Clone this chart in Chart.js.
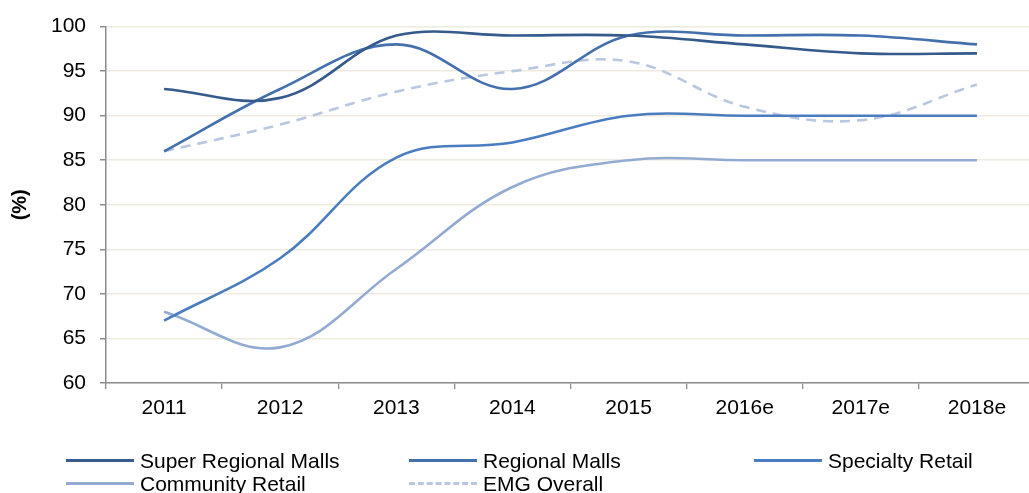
<!DOCTYPE html>
<html>
<head>
<meta charset="utf-8">
<script src="https://cdn.jsdelivr.net/npm/chart.js@4/dist/chart.umd.min.js"></script>
<style>
  html, body { margin: 0; padding: 0; background: #fff; overflow: hidden; }
  #wrap { position: relative; width: 1029px; height: 493px; overflow: hidden; font-family: "Liberation Sans", Arial, sans-serif; }
  #c { position: absolute; left: 0; top: 0; }
  .lg { position: absolute; display: flex; align-items: center; font-size: 21px; color: #000; white-space: nowrap; line-height: 21px; }
  .lg .sw { width: 68px; height: 0; margin-right: 6px; }
</style>
</head>
<body>
<div id="wrap">
  <canvas id="c" width="1042" height="493"></canvas>
</div>
<script>
const categories = ["2011", "2012", "2013", "2014", "2015", "2016e", "2017e", "2018e"];
const superRegional = [93, 92, 99, 99, 99, 98, 97, 97];
const regionalMalls = [86, 93, 98, 93, 99, 99, 99, 98];
const specialtyRetail = [67, 74, 85.3, 87, 90, 90, 90, 90];
const communityRetail = [68, 64, 72.8, 82, 85, 85, 85, 85];
const emgOverall = [86, 89, 92.7, 95, 96.1, 91, 89.5, 93.5];
const seriesNames = ["Super Regional Malls", "Regional Malls", "Specialty Retail", "Community Retail", "EMG Overall"];
const seriesColors = ["#365A8B", "#4470AE", "#4A7DC0", "#93ABD3", "#B9C7E1"];
const yTicks = [60, 65, 70, 75, 80, 85, 90, 95, 100];

const seriesData = [superRegional, regionalMalls, specialtyRetail, communityRetail, emgOverall];
const datasets = seriesData.map((d, i) => ({
  label: seriesNames[i],
  data: d,
  borderColor: seriesColors[i],
  backgroundColor: seriesColors[i],
  borderWidth: 2.6,
  borderDash: i === 4 ? [10, 7] : [],
  pointRadius: 0,
  tension: 0.38,
  fill: false,
  order: i
}));

const FONT = { family: '"Liberation Sans", Arial, sans-serif', size: 21 };

new Chart(document.getElementById('c'), {
  type: 'line',
  data: { labels: categories, datasets },
  options: {
    responsive: false,
    animation: false,
    layout: { padding: { top: 25, left: 0, right: 7, bottom: 60 } },
    plugins: { legend: { display: false }, tooltip: { enabled: false } },
    scales: {
      x: {
        offset: true,
        grid: { offset: true, drawOnChartArea: false, color: '#8C8C8C', tickLength: 6, lineWidth: 1.3 },
        border: { color: '#8C8C8C', width: 1.5 },
        ticks: { color: '#000', font: FONT, padding: 7, maxRotation: 0 },
        afterFit: s => { s.height = 50; }
      },
      y: {
        min: 60, max: 100,
        afterBuildTicks: s => { s.ticks = yTicks.map(v => ({ value: v })); },
        grid: { color: '#EEEAE0', lineWidth: 1.5, tickLength: 6, tickColor: '#8C8C8C', drawTicks: true },
        border: { color: '#8C8C8C', width: 1.5 },
        ticks: { color: '#000', font: FONT, padding: 14 },
        title: { display: true, text: '(%)', color: '#000', font: { family: FONT.family, size: 20, weight: 'bold' }, padding: { top: 8, bottom: 0 } },
        afterFit: s => { s.width = 106; }
      }
    }
  }
});

// HTML legend (real text), 3 columns
const legendPos = [[66, 460], [409, 460], [754, 460], [66, 483], [409, 483]];
const wrap = document.getElementById('wrap');
seriesNames.forEach((name, i) => {
  const el = document.createElement('div');
  el.className = 'lg';
  el.style.left = legendPos[i][0] + 'px';
  el.style.top = (legendPos[i][1] - 10) + 'px';
  const sw = document.createElement('span');
  sw.className = 'sw';
  sw.style.borderTop = (i === 4 ? '3px dashed ' : '3px solid ') + seriesColors[i];
  const tx = document.createElement('span');
  tx.textContent = name;
  el.appendChild(sw);
  el.appendChild(tx);
  wrap.appendChild(el);
});
</script>
</body>
</html>
